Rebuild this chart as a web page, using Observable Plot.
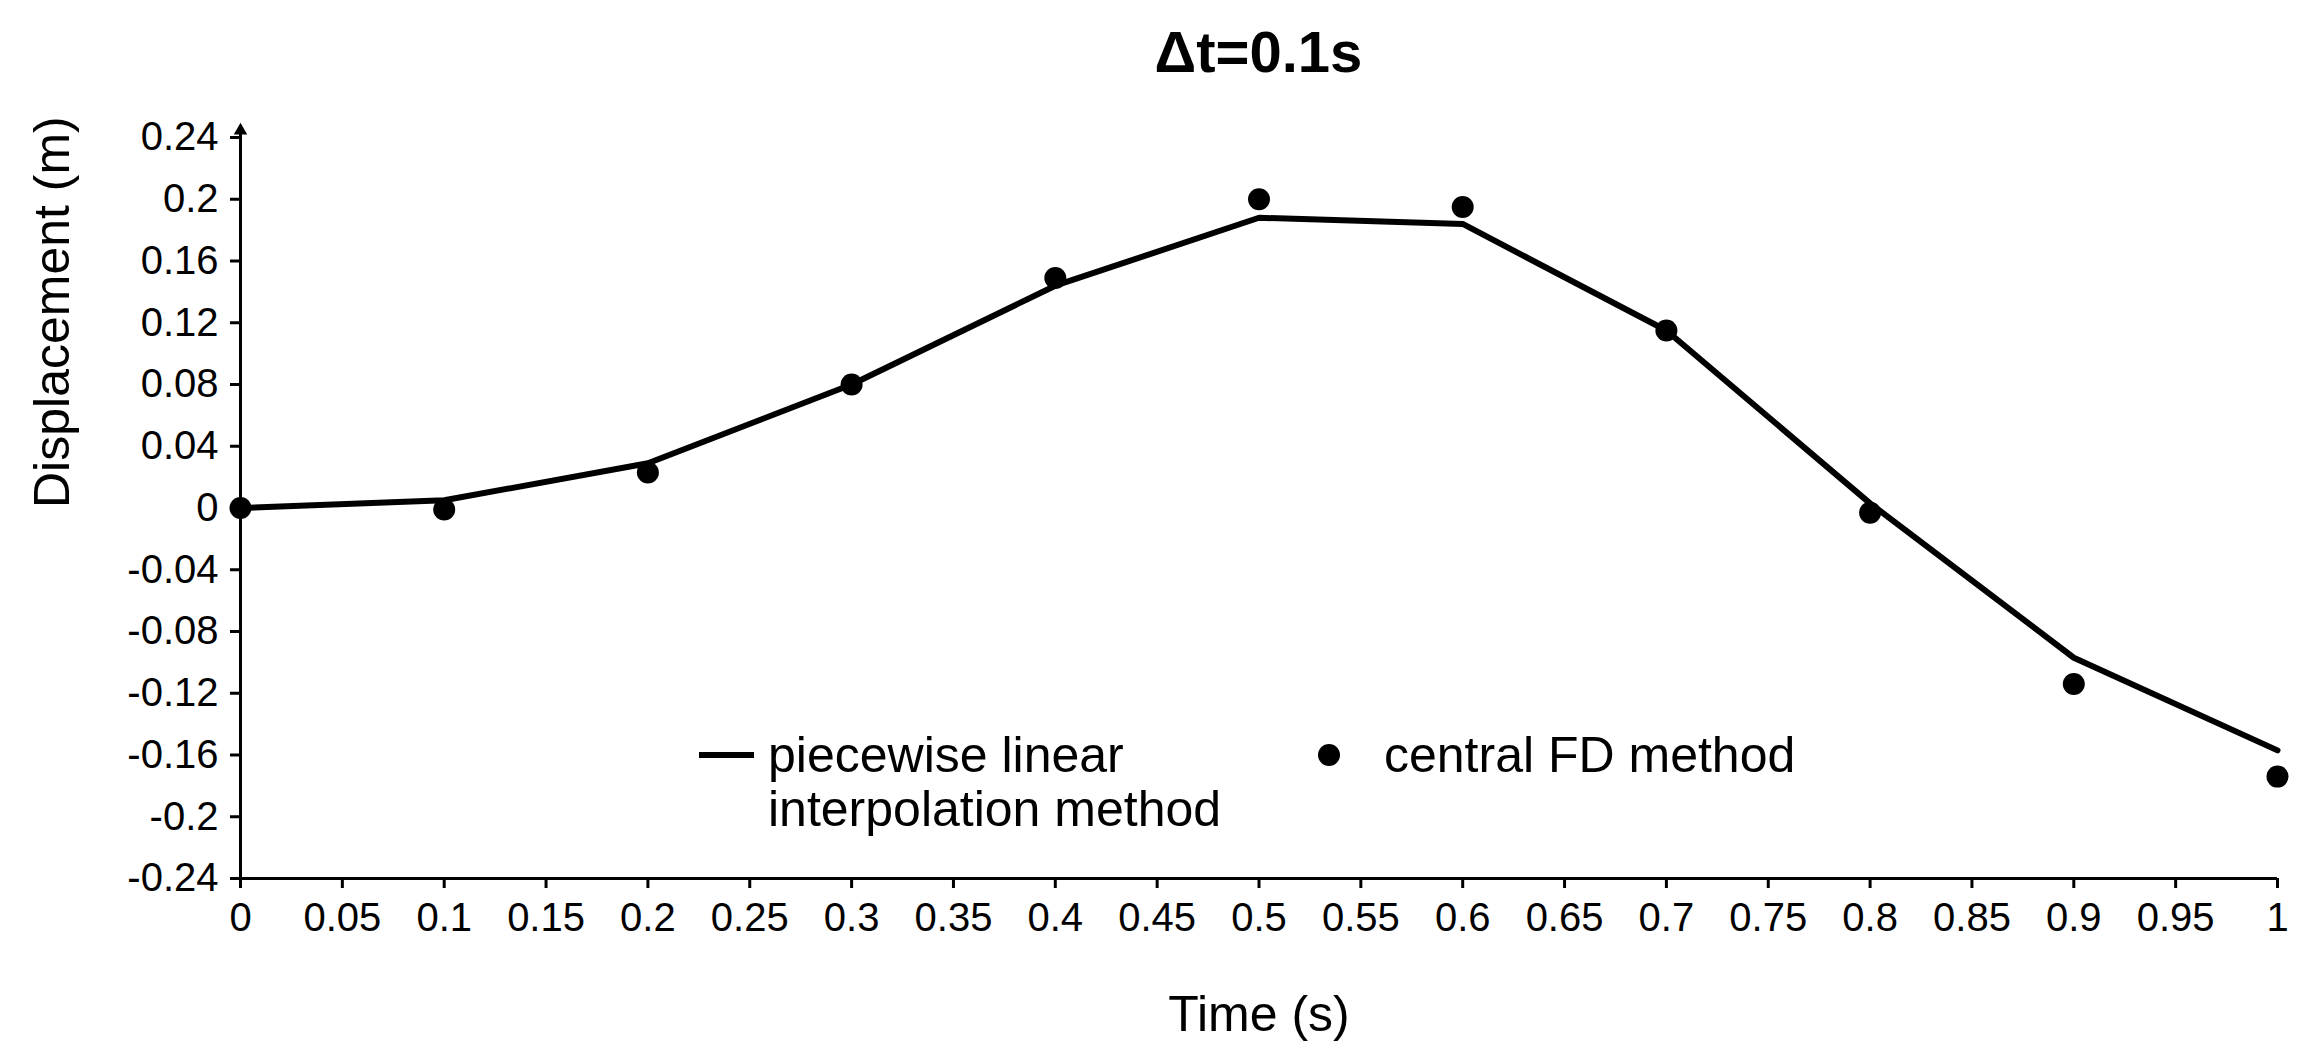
<!DOCTYPE html>
<html>
<head>
<meta charset="utf-8">
<script src="https://cdn.jsdelivr.net/npm/d3@7"></script>
<script src="https://cdn.jsdelivr.net/npm/@observablehq/plot@0.6"></script>
<style>
  html, body { margin: 0; padding: 0; background: #fff; }
  body { font-family: "Liberation Sans", Arial, sans-serif; color: #000; }
  #wrap { position: relative; width: 2308px; height: 1057px; overflow: hidden; background: #fff; }
  #title { position: absolute; left: 240px; width: 2037px; top: 0; height: 100px;
           text-align: center; font-weight: bold; font-size: 58px; line-height: 104px; }
  #chart { position: absolute; left: 0; top: 100px; }
  .leg-text { position: absolute; font-size: 50px; line-height: 54px; white-space: nowrap; }
  .leg-sw { position: absolute; overflow: visible; }
</style>
</head>
<body>
<div id="wrap">
  <div id="title"></div>
  <div id="chart"></div>
</div>
<script>
// ---- data ----
const titleText = "Δt=0.1s";
const xLabel = "Time (s)";
const yLabel = "Displacement (m)";
const time = [0, 0.1, 0.2, 0.3, 0.4, 0.5, 0.6, 0.7, 0.8, 0.9, 1.0];
const piecewiseLinear = [0, 0.005, 0.029, 0.080, 0.144, 0.188, 0.184, 0.115, 0.003, -0.097, -0.157];
const centralFD = [0, -0.001, 0.023, 0.080, 0.149, 0.200, 0.195, 0.115, -0.003, -0.114, -0.174];
const xTicks = [0, 0.05, 0.1, 0.15, 0.2, 0.25, 0.3, 0.35, 0.4, 0.45, 0.5, 0.55, 0.6, 0.65, 0.7, 0.75, 0.8, 0.85, 0.9, 0.95, 1];
const yTicks = [-0.24, -0.2, -0.16, -0.12, -0.08, -0.04, 0, 0.04, 0.08, 0.12, 0.16, 0.2, 0.24];
const xDomain = [0, 1];
const yDomain = [-0.24, 0.24];
const legendLines = [["piecewise linear", "interpolation method"], ["central FD method"]];

// ---- build ----
document.getElementById("title").textContent = titleText;
const fmt = d => String(+d.toFixed(2));
const rows = time.map((t, i) => ({t, lin: piecewiseLinear[i], fd: centralFD[i]}));
const FONT = '"Liberation Sans", Arial, sans-serif';

const chart = Plot.plot({
  width: 2308,
  height: 957,
  marginTop: 37,
  marginBottom: 179,
  marginLeft: 240,
  marginRight: 31,
  style: {fontFamily: FONT, fontSize: "40px", color: "#000", background: "#fff", overflow: "visible"},
  x: {domain: xDomain},
  y: {domain: yDomain},
  marks: [
    Plot.axisX({ticks: xTicks, tickFormat: fmt, tickSize: 10, tickPadding: 14, strokeWidth: 3, fontSize: 40, label: null}),
    Plot.axisY({ticks: yTicks, tickFormat: fmt, tickSize: 10, tickPadding: 12, strokeWidth: 3, fontSize: 40, label: null}),
    Plot.ruleY([yDomain[0]], {stroke: "#000", strokeWidth: 3}),
    Plot.ruleX([xDomain[0]], {stroke: "#000", strokeWidth: 3, insetTop: -6}),
    Plot.dot([{x: xDomain[0], y: yDomain[1]}], {x: "x", y: "y", symbol: "triangle", r: 5, dy: -7, fill: "#000", stroke: "none"}),
    Plot.text([xLabel], {frameAnchor: "bottom", dy: 152, fontSize: 50, fill: "#000"}),
    Plot.text([yLabel], {frameAnchor: "left", dx: -188, rotate: -90, fontSize: 50, fill: "#000"}),
    Plot.line(rows, {x: "t", y: "lin", stroke: "#000", strokeWidth: 6}),
    Plot.dot(rows, {x: "t", y: "fd", r: 11, fill: "#000", stroke: "none"})
  ]
});
document.getElementById("chart").appendChild(chart);

// ---- legend (HTML overlay inside the plot frame) ----
const wrap = document.getElementById("wrap");
function addText(lines, left, top) {
  const d = document.createElement("div");
  d.className = "leg-text";
  d.style.left = left + "px";
  d.style.top = top + "px";
  d.innerHTML = lines.join("<br>");
  wrap.appendChild(d);
}
function addSwatch(kind, left, top) {
  const ns = "http://www.w3.org/2000/svg";
  const s = document.createElementNS(ns, "svg");
  s.setAttribute("class", "leg-sw");
  s.setAttribute("width", 60); s.setAttribute("height", 30);
  s.style.left = left + "px"; s.style.top = top + "px";
  if (kind === "line") {
    const l = document.createElementNS(ns, "line");
    l.setAttribute("x1", 2); l.setAttribute("x2", 57); l.setAttribute("y1", 15); l.setAttribute("y2", 15);
    l.setAttribute("stroke", "#000"); l.setAttribute("stroke-width", 6);
    s.appendChild(l);
  } else {
    const c = document.createElementNS(ns, "circle");
    c.setAttribute("cx", 30); c.setAttribute("cy", 15); c.setAttribute("r", 11);
    c.setAttribute("fill", "#000");
    s.appendChild(c);
  }
  wrap.appendChild(s);
}
addSwatch("line", 697, 740);
addText(legendLines[0], 768, 728);
addSwatch("dot", 1299, 740);
addText(legendLines[1], 1384, 728);
</script>
</body>
</html>
